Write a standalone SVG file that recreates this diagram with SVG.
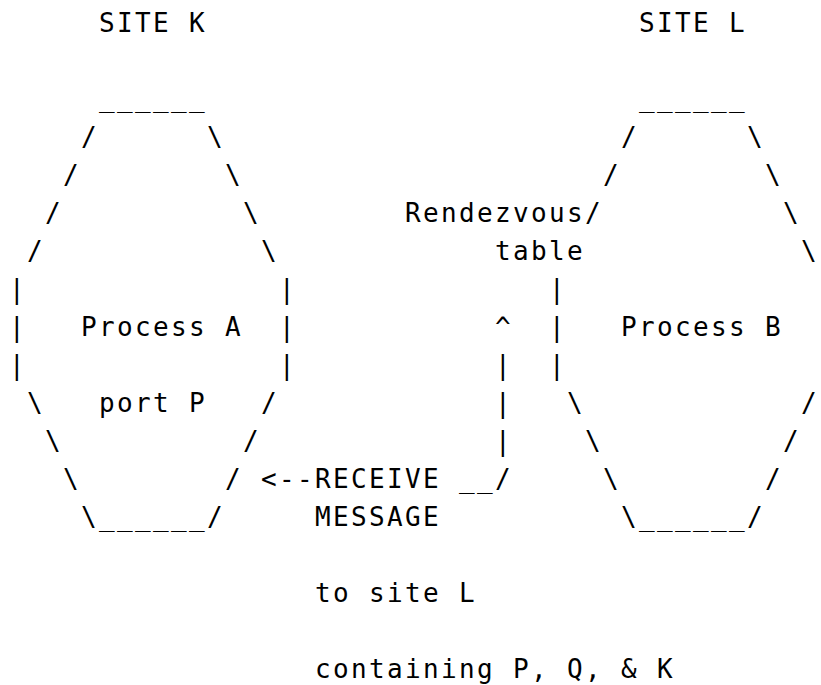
<svg xmlns="http://www.w3.org/2000/svg" width="821" height="685" viewBox="0 0 821 685">
<style>
text{font-family:"DejaVu Sans Mono","Liberation Mono",monospace;font-size:26px;letter-spacing:2.35px;fill:#000;white-space:pre}
</style>
<rect width="821" height="685" fill="#fff"/>
<g id="site-k">
<text x="98.9" y="32">SITE K</text>
<text x="98.9" y="107">______</text>
<text x="80.9" y="146">/</text><text x="206.9" y="146">\</text>
<text x="62.9" y="184">/</text><text x="224.9" y="184">\</text>
<text x="44.9" y="222">/</text><text x="242.9" y="222">\</text>
<text x="26.9" y="260">/</text><text x="260.9" y="260">\</text>
<text x="8.9" y="298">|</text><text x="278.9" y="298">|</text>
<text x="8.9" y="336">|</text><text x="80.9" y="336">Process A</text><text x="278.9" y="336">|</text>
<text x="8.9" y="374">|</text><text x="278.9" y="374">|</text>
<text x="26.9" y="412">\</text><text x="98.9" y="412">port P</text><text x="260.9" y="412">/</text>
<text x="44.9" y="450">\</text><text x="242.9" y="450">/</text>
<text x="62.9" y="488">\</text><text x="224.9" y="488">/</text>
<text x="80.9" y="526">\______/</text>
</g>
<g id="site-l">
<text x="638.9" y="32">SITE L</text>
<text x="638.9" y="107">______</text>
<text x="620.9" y="146">/</text><text x="746.9" y="146">\</text>
<text x="602.9" y="184">/</text><text x="764.9" y="184">\</text>
<text x="584.9" y="222">/</text><text x="782.9" y="222">\</text>
<text x="800.9" y="260">\</text>
<text x="548.9" y="298">|</text>
<text x="548.9" y="336">|</text><text x="620.9" y="336">Process B</text>
<text x="548.9" y="374">|</text>
<text x="566.9" y="412">\</text><text x="800.9" y="412">/</text>
<text x="584.9" y="450">\</text><text x="782.9" y="450">/</text>
<text x="602.9" y="488">\</text><text x="764.9" y="488">/</text>
<text x="620.9" y="526">\______/</text>
</g>
<g id="rendezvous-table">
<text x="404.9" y="222">Rendezvous</text>
<text x="494.9" y="260">table</text>
</g>
<g id="connectors">
<text x="494.9" y="336">^</text>
<text x="494.9" y="374">|</text>
<text x="494.9" y="412">|</text>
<text x="494.9" y="450">|</text>
<text x="260.9" y="488">&lt;--</text>
<text x="458.9" y="488">__/</text>
</g>
<g id="message-label">
<text x="314.9" y="488">RECEIVE</text>
<text x="314.9" y="526">MESSAGE</text>
<text x="314.9" y="602">to site L</text>
<text x="314.9" y="678">containing P, Q, &amp; K</text>
</g>
</svg>
